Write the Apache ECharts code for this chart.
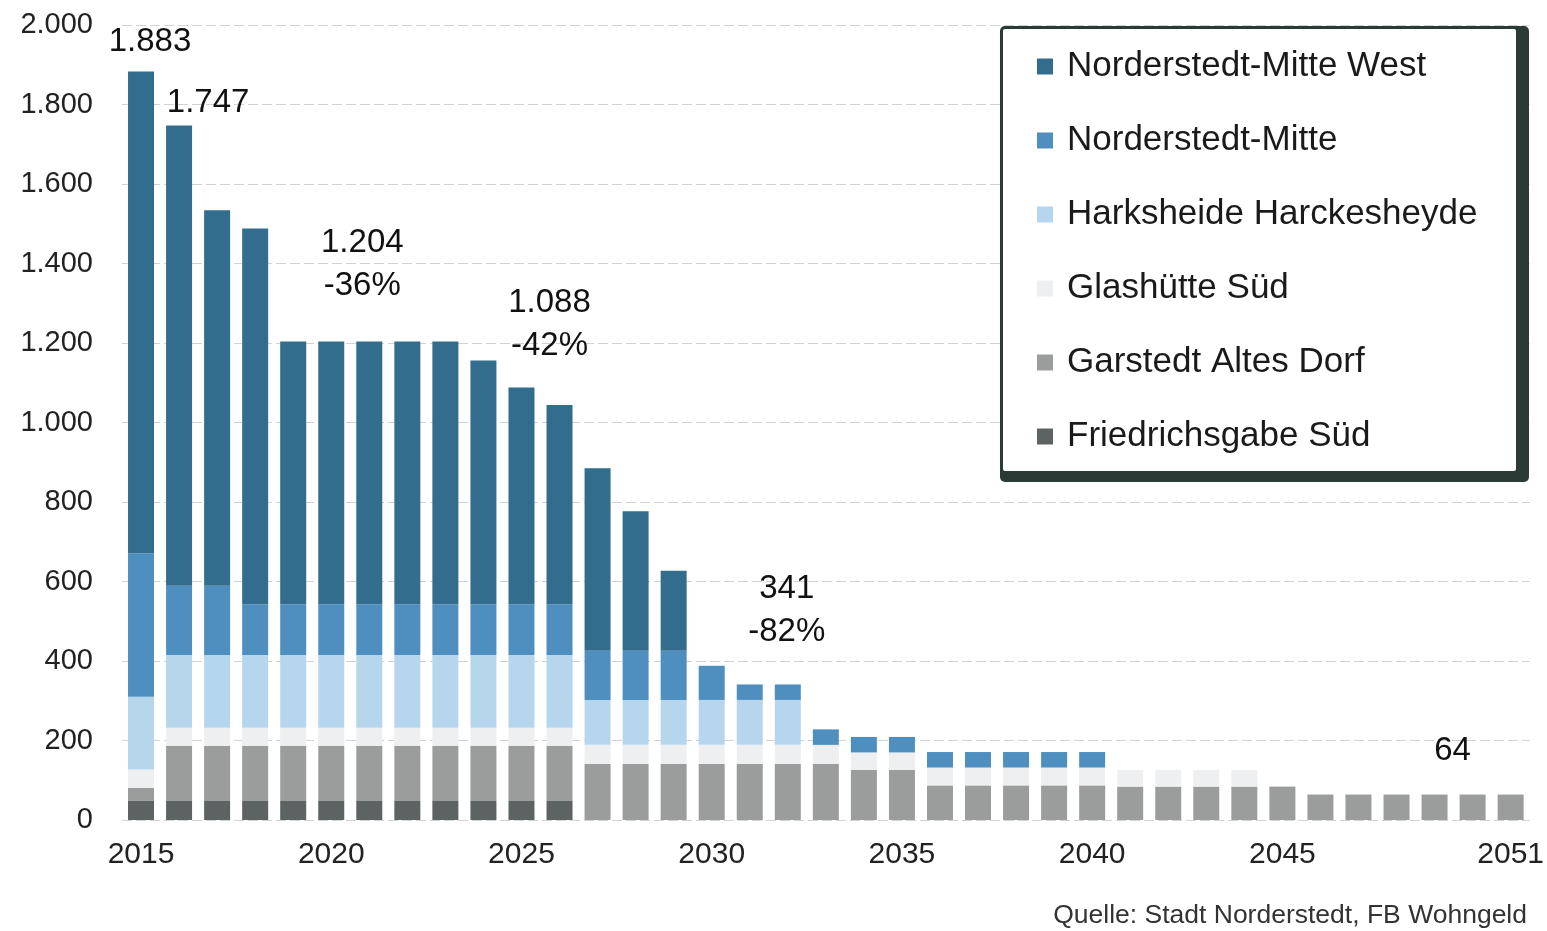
<!DOCTYPE html>
<html>
<head>
<meta charset="utf-8">
<script src="https://cdn.jsdelivr.net/npm/echarts@6/dist/echarts.min.js"></script>
<style>
  html, body { margin: 0; padding: 0; background: #ffffff; }
  #chart { width: 1547px; height: 931px; }
</style>
</head>
<body>
<div id="chart"></div>
<script>
// ---------- DATA ----------
const years = ['2015','2016','2017','2018','2019','2020','2021','2022','2023','2024','2025','2026','2027','2028','2029','2030','2031','2032','2033','2034','2035','2036','2037','2038','2039','2040','2041','2042','2043','2044','2045','2046','2047','2048','2049','2050','2051'];
const xTickLabels = ['2015','2020','2025','2030','2035','2040','2045','2051'];
const yTickValues = [0,200,400,600,800,1000,1200,1400,1600,1800,2000];

const seriesNames = ['Friedrichsgabe Süd','Garstedt Altes Dorf','Glashütte Süd','Harksheide Harckesheyde','Norderstedt-Mitte','Norderstedt-Mitte West'];

const friedrichsgabeSued = [48,48,48,48,48,48,48,48,48,48,48,48,0,0,0,0,0,0,0,0,0,0,0,0,0,0,0,0,0,0,0,0,0,0,0,0,0];
const garstedtAltesDorf  = [33,139,139,139,139,139,139,139,139,139,139,139,141,141,141,141,141,141,141,126,126,87,87,87,87,87,84,84,84,84,84,64,64,64,64,64,64];
const glashuetteSued     = [46,45,45,45,45,45,45,45,45,45,45,45,48,48,48,48,48,48,48,44,44,45,45,45,45,45,42,42,42,42,0,0,0,0,0,0,0];
const harksheide         = [183,183,183,183,183,183,183,183,183,183,183,183,113,113,113,113,113,113,0,0,0,0,0,0,0,0,0,0,0,0,0,0,0,0,0,0,0];
const norderstedtMitte   = [361,174,174,128,128,128,128,128,128,128,128,128,124,124,124,86,39,39,39,39,39,39,39,39,39,39,0,0,0,0,0,0,0,0,0,0,0];
const norderstedtMitteW  = [1212,1158,945,945,661,661,661,661,661,613,545,501,459,351,201,0,0,0,0,0,0,0,0,0,0,0,0,0,0,0,0,0,0,0,0,0,0];

// annotations (anchored at bar tops)
const annotYears  = ['2015','2016','2021','2025','2032','2049'];
const annotValues = [1883,1747,1204,1088,341,64];
const annotChange = ['','','-36%','-42%','-82%',''];

// ---------- STYLE ----------
const colors = ['#5d6263','#9b9c9c','#eeeff1','#b6d6ee','#4f8fbf','#326d8e'];
const annotOffsets = [[9,-30],[29,-23],[-7,-77],[28,-63],[-1,-74],[18,-44]];
const FONT = '"Liberation Sans", Arial, sans-serif';

function fmt(n) {
  return String(n).replace(/\B(?=(\d{3})+(?!\d))/g, '.');
}

const seriesData = [friedrichsgabeSued, garstedtAltesDorf, glashuetteSued, harksheide, norderstedtMitte, norderstedtMitteW];

const barSeries = seriesNames.map((name, i) => ({
  name: name,
  type: 'bar',
  stack: 'total',
  barWidth: 26,
  data: seriesData[i],
  itemStyle: { color: colors[i] },
  emphasis: { disabled: true }
}));

const annotSeries = {
  name: 'annotations',
  type: 'scatter',
  symbolSize: 0,
  silent: true,
  z: 10,
  itemStyle: { opacity: 1 },
  data: annotYears.map((y, i) => ({
    value: [y, annotValues[i]],
    label: {
      show: true,
      position: 'inside',
      offset: annotOffsets[i],
      formatter: () => fmt(annotValues[i]) + (annotChange[i] ? '\n' + annotChange[i] : ''),
      fontFamily: FONT,
      fontSize: 33,
      lineHeight: 43,
      color: '#111',
      opacity: 1,
      align: 'center',
      verticalAlign: 'middle'
    }
  }))
};

const chart = echarts.init(document.getElementById('chart'), null, { renderer: 'canvas' });
chart.setOption({
  animation: false,
  backgroundColor: '#ffffff',
  title: {
    text: 'Quelle: Stadt Norderstedt, FB Wohngeld',
    right: 20,
    top: 902,
    padding: 0,
    textStyle: { fontFamily: FONT, fontSize: 26.5, fontWeight: 'normal', color: '#333' }
  },
  grid: { left: 122, right: 16, top: 25, bottom: 111, containLabel: false },
  // legend frame: thin left/top edge, heavy right/bottom edge
  graphic: [
    {
      type: 'rect', z: 8, silent: true,
      shape: { x: 1000, y: 26, width: 529, height: 456, r: 5 },
      style: { fill: '#2c3a36' }
    },
    {
      type: 'rect', z: 9, silent: true,
      shape: { x: 1003, y: 29, width: 513, height: 442, r: 2 },
      style: { fill: '#ffffff' }
    }
  ],
  legend: {
    data: seriesNames.slice().reverse(),
    orient: 'vertical',
    left: 1001,
    top: 27,
    z: 12,
    padding: [22, 46, 25, 36],
    itemGap: 39,
    itemWidth: 16,
    itemHeight: 16,
    icon: 'rect',
    selectedMode: false,
    textStyle: { fontFamily: FONT, fontSize: 35, lineHeight: 34, color: '#1a1a1a', padding: [0, 0, 0, 9] }
  },
  xAxis: {
    type: 'category',
    data: years,
    boundaryGap: true,
    axisLine: { show: false },
    axisTick: { show: false },
    axisLabel: {
      interval: (idx, val) => xTickLabels.includes(val),
      margin: 20,
      fontFamily: FONT,
      fontSize: 30,
      color: '#222'
    },
    splitLine: { show: false }
  },
  yAxis: {
    type: 'value',
    min: yTickValues[0],
    max: yTickValues[yTickValues.length - 1],
    interval: yTickValues[1] - yTickValues[0],
    axisLine: { show: false },
    axisTick: { show: false },
    axisLabel: {
      formatter: v => fmt(v),
      margin: 29,
      fontFamily: FONT,
      fontSize: 29,
      color: '#222'
    },
    splitLine: { show: true, lineStyle: { color: '#d2d2d2', width: 1, type: [10, 4] } }
  },
  series: [...barSeries, annotSeries]
});
</script>
</body>
</html>
